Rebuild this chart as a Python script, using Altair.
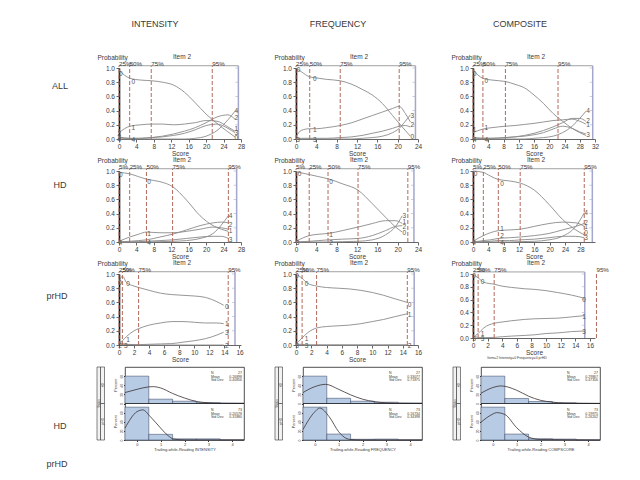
import altair as alt
import pandas as pd

FONT = "Liberation Sans"
TXT = "#3a3a3a"
CURVE_COLOR = "#8a8a8a"
PCT_COLOR = "#b26a5c"
RAXIS_COLOR = "#a4a7cc"
BAR_FILL = "#b8cbe4"
BAR_STROKE = "#2e3e5c"

COL_HEADERS = ["INTENSITY", "FREQUENCY", "COMPOSITE"]
ROW_LABELS = ["ALL", "HD", "prHD"]
HIST_GROUPS = ["HD", "prHD"]
PANEL_TITLE = "Item 2"
PCT4 = ["25%", "50%", "75%", "95%"]
PCT5 = ["5%", "25%", "50%", "75%", "95%"]
NAMES5 = ["0", "1", "2", "3", "4"]
NAMES4 = ["0", "1", "2", "3"]
NAMES_C3 = ["0", "1", "3"]
Y_TICKS = [0.0, 0.2, 0.4, 0.6, 0.8, 1.0]
RIGHT_TICKS = [0.2, 0.4, 0.6, 0.8, 1.0]
TOP = 1.032

# ---------- ALL / INTENSITY ----------
A1_X = [0, 2.5, 5, 7.5, 10, 12.5, 15, 17.5, 20, 22.5, 25, 26.6]
A1_C0 = [0.97, 0.855, 0.83, 0.82, 0.80, 0.76, 0.66, 0.51, 0.35, 0.22, 0.10, 0.03]
A1_C1 = [0.09, 0.18, 0.20, 0.21, 0.21, 0.20, 0.21, 0.23, 0.26, 0.25, 0.17, 0.11]
A1_C2 = [0.03, 0.01, 0.01, 0.02, 0.04, 0.07, 0.11, 0.16, 0.23, 0.31, 0.34, 0.28]
A1_C3 = [0.02, 0.005, 0.01, 0.02, 0.03, 0.05, 0.08, 0.13, 0.19, 0.21, 0.15, 0.09]
A1_C4 = [0.0, 0.0, 0.0, 0.0, 0.0, 0.0, 0.0, 0.01, 0.04, 0.12, 0.27, 0.39]
A1_PCT = [0, 2.45, 7.4, 21.4]
A1_LX = [0.4, 3.3, 3.3, 0.1, 0.1, 0.1, 3.3, 26.9, 26.9, 26.9, 26.9, 26.9]
A1_LY = [0.91, 0.80, 0.16, 0.07, 0.035, -0.01, -0.01, 0.40, 0.29, 0.14, 0.085, 0.02]
A1_LT = ["0", "0", "1", "2", "3", "4", "4", "4", "2", "1", "3", "0"]

# ---------- ALL / FREQUENCY ----------
A2_X = [0, 1, 2.7, 4, 6, 8.7, 11, 13, 15, 17, 19, 20.3, 21.5, 22.5]
A2_C0 = [1.0, 0.95, 0.875, 0.86, 0.84, 0.82, 0.77, 0.70, 0.62, 0.50, 0.33, 0.22, 0.12, 0.04]
A2_C1 = [0.03, 0.12, 0.145, 0.145, 0.16, 0.19, 0.23, 0.28, 0.33, 0.38, 0.43, 0.46, 0.36, 0.24]
A2_C2 = [0.0, 0.01, 0.01, 0.01, 0.01, 0.02, 0.03, 0.05, 0.08, 0.11, 0.15, 0.18, 0.19, 0.17]
A2_C3 = [0.0, 0.0, 0.0, 0.0, 0.0, 0.0, 0.0, 0.01, 0.02, 0.04, 0.09, 0.15, 0.25, 0.34]
A2_PCT = [0, 2.7, 8.7, 20.3]
A2_LX = [0.5, 3.7, 3.7, 0.4, 3.7, 22.9, 22.9, 22.9]
A2_LY = [0.97, 0.84, 0.12, -0.01, -0.01, 0.33, 0.20, 0.03]
A2_LT = ["0", "0", "1", "3", "3", "3", "2", "0"]

# ---------- ALL / COMPOSITE ----------
A3_X = [0, 2.6, 5, 8.5, 11, 13.5, 16, 18.5, 21, 23.5, 26, 28, 29.6]
A3_C0 = [0.97, 0.855, 0.83, 0.81, 0.77, 0.72, 0.62, 0.50, 0.36, 0.25, 0.15, 0.09, 0.05]
A3_C1 = [0.09, 0.14, 0.16, 0.18, 0.19, 0.205, 0.22, 0.24, 0.26, 0.27, 0.28, 0.25, 0.21]
A3_C2 = [0.02, 0.01, 0.01, 0.02, 0.03, 0.05, 0.08, 0.12, 0.17, 0.23, 0.29, 0.29, 0.25]
A3_C3 = [0.02, 0.01, 0.01, 0.02, 0.03, 0.04, 0.06, 0.09, 0.14, 0.18, 0.15, 0.10, 0.07]
A3_C4 = [0.0, 0.0, 0.0, 0.0, 0.0, 0.0, 0.01, 0.02, 0.04, 0.09, 0.18, 0.29, 0.39]
A3_PCT = [0, 2.6, 8.5, 22.3]
A3_LX = [0.4, 3.5, 0.4, 3.5, 0.4, 3.5, 30.2, 30.2, 30.2, 30.2]
A3_LY = [0.92, 0.82, 0.12, 0.15, -0.01, -0.01, 0.39, 0.25, 0.20, 0.05]
A3_LT = ["0", "0", "1", "1", "4", "4", "4", "2", "1", "3"]

# ---------- HD / INTENSITY ----------
B1_X = [0, 2.45, 4.5, 6.3, 9.4, 12.3, 15.5, 18.6, 21.6, 23.5, 25.1]
B1_C0 = [0.98, 0.96, 0.92, 0.885, 0.85, 0.78, 0.59, 0.37, 0.23, 0.18, 0.15]
B1_C1 = [0.01, 0.07, 0.11, 0.14, 0.13, 0.13, 0.15, 0.18, 0.21, 0.20, 0.18]
B1_C2 = [0.0, 0.01, 0.02, 0.03, 0.07, 0.11, 0.17, 0.23, 0.27, 0.28, 0.27]
B1_C3 = [0.0, 0.0, 0.005, 0.01, 0.02, 0.03, 0.05, 0.07, 0.08, 0.08, 0.05]
B1_C4 = [0.0, 0.0, 0.0, 0.0, 0.005, 0.01, 0.02, 0.05, 0.12, 0.24, 0.37]
B1_PCT = [0, 2.45, 6.3, 12.3, 25.1]
B1_LX = [0.4, 6.9, 6.9, 0.3, 6.9, 25.6, 25.6, 25.6, 25.6]
B1_LY = [0.95, 0.84, 0.11, -0.01, -0.01, 0.37, 0.24, 0.15, 0.03]
B1_LT = ["0", "0", "1", "4", "4", "4", "2", "1", "3"]

# ---------- HD / FREQUENCY ----------
B2_X = [0, 2.6, 4.5, 6.3, 9.1, 12.2, 15, 17.6, 19.6, 20.9]
B2_C0 = [0.99, 0.95, 0.92, 0.89, 0.82, 0.73, 0.54, 0.35, 0.21, 0.14]
B2_C1 = [0.01, 0.09, 0.11, 0.12, 0.16, 0.21, 0.26, 0.30, 0.30, 0.26]
B2_C2 = [0.0, 0.01, 0.02, 0.03, 0.04, 0.05, 0.09, 0.16, 0.22, 0.23]
B2_C3 = [0.0, 0.0, 0.0, 0.0, 0.005, 0.01, 0.03, 0.10, 0.22, 0.37]
B2_PCT = [0, 2.6, 6.3, 12.2, 22.0]
B2_LX = [0.7, 6.9, 6.9, 0.3, 6.9, 21.3, 21.3, 21.3, 21.3]
B2_LY = [0.96, 0.84, 0.10, -0.01, -0.01, 0.37, 0.28, 0.21, 0.13]
B2_LT = ["0", "0", "1", "3", "2", "3", "1", "2", "0"]

# ---------- HD / COMPOSITE ----------
B3_X = [0, 2.7, 4.5, 6.6, 9.5, 12.3, 16, 19.8, 23.3, 26.8, 29]
B3_C0 = [1.0, 0.98, 0.93, 0.88, 0.86, 0.83, 0.73, 0.53, 0.32, 0.17, 0.10]
B3_C1 = [0.01, 0.09, 0.13, 0.16, 0.17, 0.18, 0.22, 0.26, 0.28, 0.27, 0.22]
B3_C2 = [0.0, 0.02, 0.03, 0.05, 0.06, 0.07, 0.09, 0.12, 0.17, 0.22, 0.26]
B3_C3 = [0.0, 0.005, 0.01, 0.02, 0.02, 0.03, 0.04, 0.06, 0.08, 0.08, 0.06]
B3_C4 = [0.0, 0.0, 0.0, 0.0, 0.0, 0.005, 0.01, 0.03, 0.08, 0.22, 0.41]
B3_PCT = [0, 2.7, 6.6, 12.3, 29.0]
B3_LX = [0.7, 7.6, 7.6, 7.6, 0.3, 7.6, 29.5, 29.5, 29.5, 29.5, 29.5]
B3_LY = [0.96, 0.82, 0.18, 0.09, -0.01, -0.01, 0.41, 0.27, 0.21, 0.13, 0.05]
B3_LT = ["0", "0", "1", "2", "4", "4", "4", "2", "1", "0", "3"]

# ---------- prHD / INTENSITY ----------
C1_X = [0, 0.45, 1, 2, 2.6, 4, 5.5, 7, 8.5, 10, 11.5, 13, 13.9]
C1_C0 = [0.89, 0.97, 0.88, 0.83, 0.81, 0.77, 0.73, 0.71, 0.70, 0.69, 0.67, 0.61, 0.56]
C1_C1 = [0.03, 0.06, 0.12, 0.20, 0.23, 0.28, 0.31, 0.33, 0.33, 0.32, 0.31, 0.31, 0.30]
C1_C2 = [0.06, 0.02, 0.01, 0.005, 0.0, 0.0, 0.0, 0.0, 0.0, 0.0, 0.0, 0.0, 0.0]
C1_C3 = [0.02, 0.01, 0.005, 0.005, 0.005, 0.01, 0.015, 0.02, 0.04, 0.06, 0.09, 0.14, 0.18]
C1_PCT = [0, 0.45, 2.6, 14.5]
C1_LX = [0.15, 1.2, 1.2, 0.15, 0.9, 14.3, 14.3, 14.3, 14.3]
C1_LY = [0.88, 0.86, 0.07, -0.02, -0.02, 0.53, 0.30, 0.17, -0.01]
C1_LT = ["0", "0", "1", "2", "3", "0", "1", "3", "2"]

# ---------- prHD / FREQUENCY ----------
C2_X = [0, 0.8, 1.5, 2.7, 4, 5.5, 7, 8.5, 10, 11.5, 13, 14.6]
C2_C0 = [1.0, 0.94, 0.87, 0.83, 0.81, 0.80, 0.79, 0.77, 0.74, 0.70, 0.65, 0.60]
C2_C1 = [0.01, 0.10, 0.17, 0.24, 0.26, 0.27, 0.28, 0.30, 0.33, 0.36, 0.40, 0.44]
C2_C2 = [0.01, 0.01, 0.0, 0.0, 0.0, 0.0, 0.0, 0.0, 0.0, 0.0, 0.0, 0.0]
C2_C3 = [0.0, 0.0, 0.0, 0.0, 0.0, 0.0, 0.0, 0.0, 0.0, 0.0, 0.0, 0.0]
C2_PCT = [0, 0.8, 2.7, 14.6]
C2_LX = [0.15, 1.4, 1.4, 0.15, 1.4, 14.9, 14.9, 14.9]
C2_LY = [0.97, 0.86, 0.08, -0.02, -0.02, 0.57, 0.42, -0.01]
C2_LT = ["0", "0", "1", "3", "3", "0", "1", "2"]

# ---------- prHD / COMPOSITE ----------
C3_X = [0, 0.7, 1.5, 2.9, 4, 5.3, 7, 8.4, 10, 11.6, 13.5, 15.3]
C3_C0 = [1.0, 0.94, 0.87, 0.84, 0.81, 0.79, 0.77, 0.76, 0.74, 0.71, 0.67, 0.62]
C3_C1 = [0.01, 0.07, 0.16, 0.23, 0.25, 0.27, 0.29, 0.30, 0.305, 0.31, 0.33, 0.35]
C3_C3 = [0.03, 0.01, 0.005, 0.01, 0.02, 0.03, 0.04, 0.05, 0.07, 0.08, 0.10, 0.11]
C3_PCT = [0, 0.7, 2.9, 16.9]
C3_LX = [0.15, 1.3, 1.3, 0.15, 1.3, 15.2, 15.2, 15.2]
C3_LY = [0.97, 0.87, 0.06, -0.02, -0.02, 0.59, 0.33, 0.10]
C3_LT = ["0", "0", "1", "3", "3", "0", "1", "3"]
C3_FOOTER = "Item=2 Intensity=0 Frequency=0 prHD"

# ---------- histograms (percent per bin) ----------
HIST_LO = [-0.5, 0.5, 1.5, 2.5, 3.5]
HIST_HI = [0.5, 1.5, 2.5, 3.5, 4.5]
I_HD_PCT = [60, 9.5, 5, 2, 1]
I_PR_PCT = [72, 12.4, 2.5, 2.5, 0]
F_HD_PCT = [60, 11.5, 5, 2.8, 1.2]
F_PR_PCT = [72, 13, 1.6, 2, 0]
C_HD_PCT = [60, 11, 4.4, 1.5, 0.5]
C_PR_PCT = [72, 13, 3, 2, 0]

I_HD_CX = [-0.5, 0, 0.5, 0.7, 1.0, 1.5, 2.0, 2.5, 3.0, 3.5, 4.5]
I_HD_CY = [24, 31, 36.5, 37, 34, 22, 12, 4.5, 1.5, 0.4, 0]
I_PR_CX = [-0.5, 0, 0.25, 0.55, 1.0, 1.3, 1.55, 2.0, 4.5]
I_PR_CY = [26, 62, 66, 52, 26, 10, 2, 0.2, 0]
F_HD_CX = [-0.5, 0, 0.45, 1.0, 1.5, 2.0, 2.5, 3.0, 3.5, 4.5]
F_HD_CY = [24, 37, 42, 31, 19, 9.5, 4, 1.5, 0.5, 0]
F_PR_CX = [-0.5, 0, 0.2, 0.6, 1.0, 1.3, 1.5, 2.0, 4.5]
F_PR_CY = [23, 62, 70, 51, 18, 4, 1, 0, 0]
C_HD_CX = [-0.5, 0, 0.35, 1.0, 1.5, 2.0, 2.5, 3.0, 4.5]
C_HD_CY = [22.5, 35, 38.5, 29, 16, 7, 3, 1, 0]
C_PR_CX = [-0.5, 0, 0.15, 0.5, 1.0, 1.5, 2.0, 4.5]
C_PR_CY = [39, 57, 60, 56, 27, 6.5, 1, 0]

STAT_KEYS = ["N", "Mean", "Std Dev"]
I_HD_STATS = ["27", "0.26898", "0.40856"]
I_PR_STATS = ["73", "0.20578", "0.31880"]
F_HD_STATS = ["27", "0.33077", "0.71875"]
F_PR_STATS = ["73", "0.16734", "0.34398"]
C_HD_STATS = ["27", "0.29867", "0.47356"]
C_PR_STATS = ["73", "0.19975", "0.26202"]
HIST_XTITLES = ["Trailing-while-Reading INTENSITY",
                "Trailing-while-Reading FREQUENCY",
                "Trailing-while-Reading COMPSCORE"]


def txt(text, x, y, size, angle=0, align="center", color=TXT):
    return alt.Chart(pd.DataFrame({"t": [text]})).mark_text(
        fontSize=size, color=color, font=FONT, align=align, baseline="middle", angle=angle
    ).encode(text="t:N", x=alt.value(x), y=alt.value(y))


def curve_panel(xs, curves, names, pct, pct_labels, lx, ly, lt, xmax, step, xdom, rax,
                height=71, footer=None):
    cdf = pd.DataFrame([{"x": x, "p": p, "c": n}
                        for n, ys in zip(names, curves) for x, p in zip(xs, ys)])
    xsc = alt.Scale(domain=[0, xdom], nice=False, zero=False)
    ysc = alt.Scale(domain=[0, 1], nice=False, zero=False)
    xaxis = alt.Axis(values=list(range(0, xmax + 1, step)), title="Score", grid=False,
                     labelFontSize=6.5, titleFontSize=6.5, titleFontWeight="normal",
                     tickSize=3, labelPadding=1.5, titlePadding=0, domainColor="#666",
                     tickColor="#666", labelColor=TXT, titleColor=TXT, labelFlush=False,
                     labelOverlap=False)
    yaxis = alt.Axis(values=Y_TICKS, format=".1f", title="Probability", titleAngle=0,
                     titleAlign="left", titleBaseline="bottom", titleX=-22, titleY=-8,
                     grid=False, labelFontSize=6.5, titleFontSize=6.5,
                     titleFontWeight="normal", tickSize=3, labelPadding=1.5,
                     domainColor="#111", domainWidth=1.6, tickColor="#666",
                     labelColor=TXT, titleColor=TXT)

    def X(f):
        return alt.X(f, scale=xsc, axis=xaxis)

    def Y(f):
        return alt.Y(f, scale=ysc, axis=yaxis)

    def YD(v):
        return alt.YDatum(v, scale=ysc, axis=yaxis)

    def XD(v):
        return alt.XDatum(v, scale=xsc, axis=xaxis)

    lines = alt.Chart(cdf).mark_line(color=CURVE_COLOR, strokeWidth=0.9,
                                     interpolate="monotone").encode(
        x=X("x:Q"), y=Y("p:Q"), detail="c:N")
    pdf = pd.DataFrame({"x": pct, "lab": pct_labels})
    prule = alt.Chart(pdf).mark_rule(color=PCT_COLOR, strokeDash=[4, 2],
                                     strokeWidth=1).encode(
        x=X("x:Q"), y=YD(0), y2=alt.Y2Datum(TOP))
    plabels = alt.Chart(pdf).mark_text(fontSize=6.2, color=TXT, align="left",
                                       baseline="middle", dy=-2, font=FONT).encode(
        x=X("x:Q"), y=YD(TOP), text="lab:N")
    tdf = pd.DataFrame({"x0": [pct[0]], "x1": [rax]})
    topline = alt.Chart(tdf).mark_rule(color="#8a8a8a", strokeWidth=0.8).encode(
        x=X("x0:Q"), x2="x1:Q", y=YD(TOP))
    rrule = alt.Chart(tdf).mark_rule(color=RAXIS_COLOR, strokeWidth=1.5).encode(
        x=X("x1:Q"), y=YD(0), y2=alt.Y2Datum(TOP))
    rtdf = pd.DataFrame({"y": RIGHT_TICKS})
    rticks = alt.Chart(rtdf).mark_tick(orient="horizontal", size=3, thickness=0.8,
                                       color=RAXIS_COLOR, xOffset=-1.5).encode(
        x=XD(rax), y=Y("y:Q"))
    ldf = pd.DataFrame({"x": lx, "y": ly, "t": lt})
    clabels = alt.Chart(ldf).mark_text(fontSize=6.5, color="#555", font=FONT).encode(
        x=X("x:Q"), y=Y("y:Q"), text="t:N")
    layers = [lines, prule, topline, rrule, rticks, plabels, clabels,
              txt(PANEL_TITLE, 63, -11.5, 6.5)]
    if footer:
        layers.append(txt(footer, 44, 84, 3.5))
    return alt.layer(*layers).properties(width=122, height=height)


def hist_cell(hd_pct, pr_pct, hd_cx, hd_cy, pr_cx, pr_cy, hd_stats, pr_stats, xtitle):
    xsc = alt.Scale(domain=[-0.5, 4.5], nice=False, zero=False)
    xaxis = alt.Axis(values=[0, 1, 2, 3, 4], title=xtitle, grid=False, labelFontSize=4,
                     titleFontSize=4, titleFontWeight="normal", tickSize=1.5,
                     labelPadding=0.5, titlePadding=1, domain=False, tickColor="#333",
                     labelColor=TXT, titleColor=TXT)
    hd_sc = alt.Scale(domain=[-80, 80], nice=False, zero=False)
    pr_sc = alt.Scale(domain=[0, 160], nice=False, zero=False)
    yaxis = alt.Axis(values=[0, 20, 40, 60, 80, 100, 120, 140], orient="left",
                     labelExpr="datum.value >= 80 ? datum.value - 80 : datum.value",
                     labelAngle=270, labelFontSize=3.5, tickSize=1.5, labelPadding=0.5,
                     title=None, grid=False, domain=False, tickColor="#333",
                     labelColor=TXT)

    def X(f):
        return alt.X(f, scale=xsc, axis=xaxis)

    hd_b = pd.DataFrame({"lo": HIST_LO, "hi": HIST_HI, "pct": hd_pct})
    pr_b = pd.DataFrame({"lo": HIST_LO, "hi": HIST_HI, "pct": pr_pct})
    hd_c = pd.DataFrame({"cx": hd_cx, "cy": hd_cy})
    pr_c = pd.DataFrame({"cx": pr_cx, "cy": pr_cy})

    hd_bars = alt.Chart(hd_b).mark_rect(fill=BAR_FILL, stroke=BAR_STROKE,
                                        strokeWidth=0.5).encode(
        x=X("lo:Q"), x2="hi:Q",
        y=alt.Y("pct:Q", scale=hd_sc, axis=None), y2=alt.Y2Datum(0))
    hd_line = alt.Chart(hd_c).mark_line(color="#3a3030", strokeWidth=0.8,
                                        interpolate="monotone").encode(
        x=X("cx:Q"), y=alt.Y("cy:Q", scale=hd_sc, axis=None))
    divider = alt.Chart(pd.DataFrame({"g": [HIST_GROUPS[0]]})).mark_rule(
        color="#222", strokeWidth=0.8).encode(y=alt.YDatum(0, scale=hd_sc, axis=None))
    hd_parts = [hd_bars, hd_line, divider]
    pr_bars = alt.Chart(pr_b).mark_rect(fill=BAR_FILL, stroke=BAR_STROKE,
                                        strokeWidth=0.5).encode(
        x=X("lo:Q"), x2="hi:Q",
        y=alt.Y("pct:Q", scale=pr_sc, axis=yaxis), y2=alt.Y2Datum(0))
    pr_line = alt.Chart(pr_c).mark_line(color="#3a3030", strokeWidth=0.8,
                                        interpolate="monotone").encode(
        x=X("cx:Q"), y=alt.Y("cy:Q", scale=pr_sc, axis=yaxis))
    pr_parts = [pr_bars, pr_line]

    deco = []
    for i, (k, v1, v2) in enumerate(zip(STAT_KEYS, hd_stats, pr_stats)):
        deco.append(txt(k, 86, 6 + 3.7 * i, 3.5, align="left"))
        deco.append(txt(v1, 117, 6 + 3.7 * i, 3.5, align="right"))
        deco.append(txt(k, 86, 43 + 3.7 * i, 3.5, align="left"))
        deco.append(txt(v2, 117, 43 + 3.7 * i, 3.5, align="right"))
    strip = pd.DataFrame({"g": ["Status"]})
    deco.append(alt.Chart(strip).mark_rect(fill="#f2f2f2", stroke="#333",
                                           strokeWidth=0.6).encode(
        x=alt.value(-28), x2=alt.value(-24.5), y=alt.value(0), y2=alt.value(73)))
    deco.append(alt.Chart(strip).mark_rect(fill="#f2f2f2", stroke="#333",
                                           strokeWidth=0.6).encode(
        x=alt.value(-24.5), x2=alt.value(-20.5), y=alt.value(0), y2=alt.value(36.5)))
    deco.append(alt.Chart(strip).mark_rect(fill="#f2f2f2", stroke="#333",
                                           strokeWidth=0.6).encode(
        x=alt.value(-24.5), x2=alt.value(-20.5), y=alt.value(36.5), y2=alt.value(73)))
    deco.append(txt("Status", -26.2, 36.5, 3, angle=270))
    deco.append(txt(HIST_GROUPS[0], -22.5, 18.2, 3, angle=270))
    deco.append(txt(HIST_GROUPS[1], -22.5, 54.7, 3, angle=270))
    deco.append(txt("Percent", -9, 18.2, 3.8, angle=270))
    deco.append(txt("Percent", -9, 54.7, 3.8, angle=270))

    return alt.layer(alt.layer(*(hd_parts + deco)), alt.layer(*pr_parts)).resolve_scale(
        y="independent").properties(
        width=119, height=73,
        view=alt.ViewBackground(stroke="#222", strokeWidth=0.8))


A1 = curve_panel(A1_X, [A1_C0, A1_C1, A1_C2, A1_C3, A1_C4], NAMES5, A1_PCT, PCT4,
                 A1_LX, A1_LY, A1_LT, 28, 4, 28, 27.4)
A2 = curve_panel(A2_X, [A2_C0, A2_C1, A2_C2, A2_C3], NAMES4, A2_PCT, PCT4,
                 A2_LX, A2_LY, A2_LT, 24, 4, 24, 23.5)
A3 = curve_panel(A3_X, [A3_C0, A3_C1, A3_C2, A3_C3, A3_C4], NAMES5, A3_PCT, PCT4,
                 A3_LX, A3_LY, A3_LT, 32, 4, 32, 31.4)
B1 = curve_panel(B1_X, [B1_C0, B1_C1, B1_C2, B1_C3, B1_C4], NAMES5, B1_PCT, PCT5,
                 B1_LX, B1_LY, B1_LT, 28, 4, 28, 27.0)
B2 = curve_panel(B2_X, [B2_C0, B2_C1, B2_C2, B2_C3], NAMES4, B2_PCT, PCT5,
                 B2_LX, B2_LY, B2_LT, 24, 4, 24, 23.2)
B3 = curve_panel(B3_X, [B3_C0, B3_C1, B3_C2, B3_C3, B3_C4], NAMES5, B3_PCT, PCT5,
                 B3_LX, B3_LY, B3_LT, 32, 4, 31.8, 31.1)
C1 = curve_panel(C1_X, [C1_C0, C1_C1, C1_C2, C1_C3], NAMES4, C1_PCT, PCT4,
                 C1_LX, C1_LY, C1_LT, 16, 2, 16.2, 15.4)
C2 = curve_panel(C2_X, [C2_C0, C2_C1, C2_C2, C2_C3], NAMES4, C2_PCT, PCT4,
                 C2_LX, C2_LY, C2_LT, 16, 2, 16, 15.5)
C3 = curve_panel(C3_X, [C3_C0, C3_C1, C3_C3], NAMES_C3, C3_PCT, PCT4,
                 C3_LX, C3_LY, C3_LT, 16, 2, 16.7, 15.3, height=64, footer=C3_FOOTER)

H1 = hist_cell(I_HD_PCT, I_PR_PCT, I_HD_CX, I_HD_CY, I_PR_CX, I_PR_CY,
               I_HD_STATS, I_PR_STATS, HIST_XTITLES[0])
H2 = hist_cell(F_HD_PCT, F_PR_PCT, F_HD_CX, F_HD_CY, F_PR_CX, F_PR_CY,
               F_HD_STATS, F_PR_STATS, HIST_XTITLES[1])
H3 = hist_cell(C_HD_PCT, C_PR_PCT, C_HD_CX, C_HD_CY, C_PR_CX, C_PR_CY,
               C_HD_STATS, C_PR_STATS, HIST_XTITLES[2])

labA = alt.layer(txt(ROW_LABELS[0], 47, 18, 9),
                 txt(COL_HEADERS[0], 142, -44, 9),
                 txt(COL_HEADERS[1], 325, -44, 9),
                 txt(COL_HEADERS[2], 507, -44, 9)).properties(width=51, height=71)
labB = txt(ROW_LABELS[1], 47, 14, 9).properties(width=51, height=71)
labC = txt(ROW_LABELS[2], 44, 22, 9).properties(width=51, height=71)
labH = alt.layer(txt(HIST_GROUPS[0], 47, 59, 9),
                 txt(HIST_GROUPS[1], 44, 97, 9)).properties(width=53, height=73)

rowA = alt.hconcat(labA, A1, A2, A3, spacing=55, bounds="flush")
rowB = alt.hconcat(labB, B1, B2, B3, spacing=55, bounds="flush")
rowC = alt.hconcat(labC, C1, C2, C3, spacing=55, bounds="flush")
rowH = alt.hconcat(labH, H1, H2, H3, spacing=59, bounds="flush")

curves = alt.vconcat(rowA, rowB, rowC, spacing=-1)
chart = alt.vconcat(curves, rowH, spacing=3).properties(
    padding={"left": 5, "top": 12, "right": 5, "bottom": 5}
).configure(font=FONT).configure_view(stroke=None)

chart.save("out.html", embed_options={"renderer": "svg", "actions": False})
